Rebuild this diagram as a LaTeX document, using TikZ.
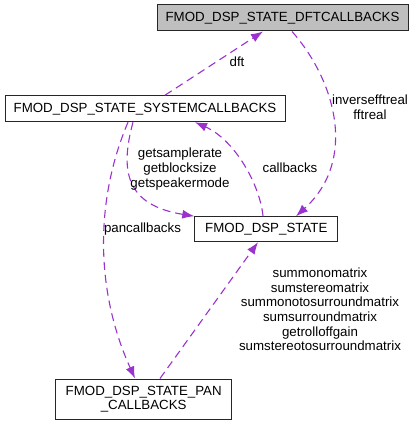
\documentclass[tikz,border=0pt]{standalone}
\usepackage{fontspec}
\setmainfont{Liberation Sans}
\usetikzlibrary{arrows.meta}
\definecolor{depcol}{HTML}{9A32CD}
\definecolor{maingray}{HTML}{BFBFBF}

\begin{document}
\begin{tikzpicture}[x=1pt,y=-1pt,>={Latex[length=12pt,width=9pt]},every node/.style={font=\fontsize{13.3}{14.6}\selectfont},box/.style={draw=black!85,line width=1pt,align=center,inner sep=0pt,minimum height=26},dep/.style={->,draw=depcol,line width=1.1pt,dash pattern=on 8pt off 5pt},lbl/.style={align=center,inner sep=0pt}]
\useasboundingbox (0,0) rectangle (413,425);
\node[box,fill=maingray,minimum width=251] (dft) at (282.5,18) {FMOD\_DSP\_STATE\_DFTCALLBACKS};
\node[box,minimum width=280] (sys) at (145,108.7) {FMOD\_DSP\_STATE\_SYSTEMCALLBACKS};
\node[box,minimum width=143,minimum height=25] (state) at (266.3,229.2) {FMOD\_DSP\_STATE};
\node[box,minimum width=176,minimum height=40] (pan) at (143.7,399) {FMOD\_DSP\_STATE\_PAN\\\_CALLBACKS};
% edges
\draw[dep] ([xshift=20]sys.north) -- ([xshift=-19.5]dft.south);
\draw[dep] ([xshift=9.5]dft.south) .. controls (335,80) and (358,160) .. ([xshift=29.7]state.north);
\draw[dep] ([xshift=-3.3]state.north) .. controls (260,185) and (235,140) .. ([xshift=50]sys.south);
\draw[dep] ([xshift=-12]sys.south) .. controls (120,170) and (125,205) .. (state.north west);
\draw[dep] ([xshift=-17]sys.south) .. controls (95,200) and (95,290) .. ([xshift=-8.7]pan.north);
\draw[dep] ([xshift=16.3]pan.north) -- ([xshift=-8.3]state.south);
% labels
\node[lbl] (ldft) at (237,62) {dft};
\node[lbl] (lfft) at (370,107) {inversefftreal\\fftreal};
\node[lbl] (lcb) at (290,168) {callbacks};
\node[lbl] (lget) at (180,169) {getsamplerate\\getblocksize\\getspeakermode};
\node[lbl] (lpan) at (142.5,229) {pancallbacks};
\node[lbl] (lsum) at (320,309.5) {summonomatrix\\sumstereomatrix\\summonotosurroundmatrix\\sumsurroundmatrix\\getrolloffgain\\sumstereotosurroundmatrix};
\end{tikzpicture}
\end{document}
